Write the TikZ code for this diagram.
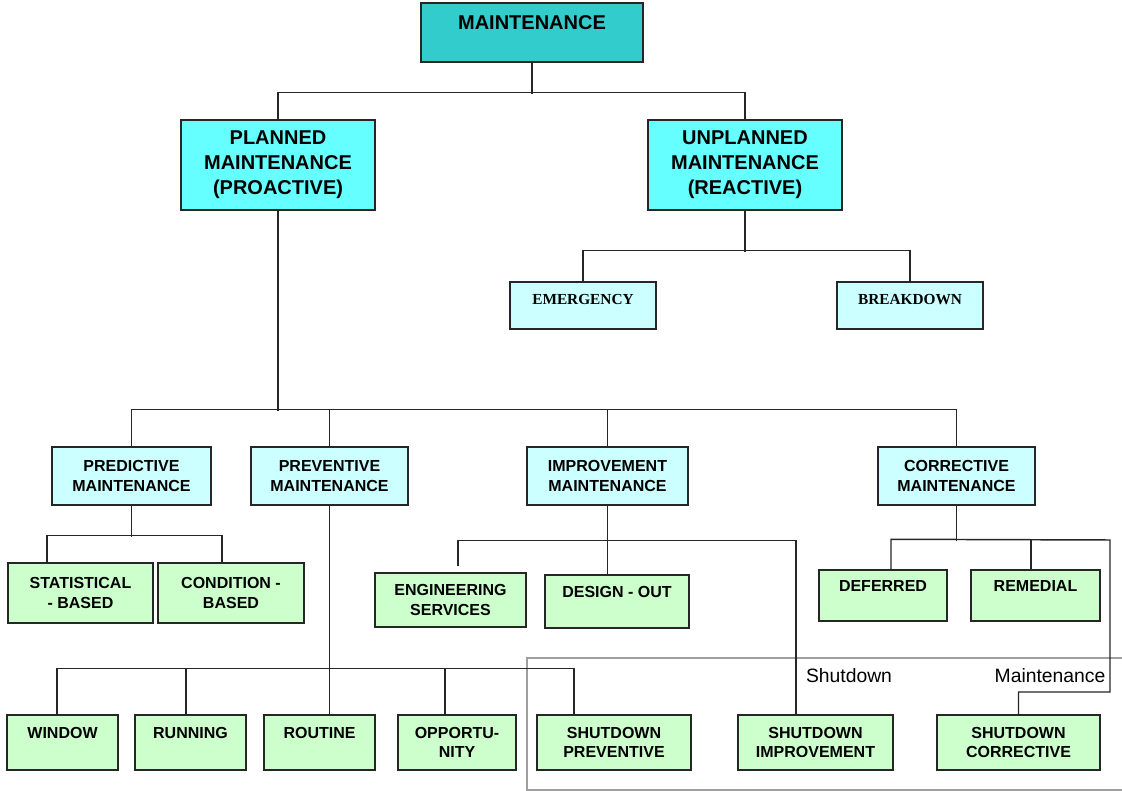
\documentclass[tikz,border=0pt]{standalone}
\usepackage{fontspec}
\setmainfont{Liberation Sans}
\newfontfamily\serifb{Liberation Serif}
\usetikzlibrary{calc}
\definecolor{tealA}{HTML}{33CCCC}
\definecolor{cyanA}{HTML}{66FFFF}
\definecolor{cyanB}{HTML}{CCFFFF}
\definecolor{greenA}{HTML}{CCFFCC}
\newcommand\mybox[7]{\node[#2, minimum width={(#5-#3)*0.75pt}, minimum height={(#6-#4)*0.75pt}] (#1) at ({(#3+#5)/2},{(#4+#6)/2}) {#7};}
\tikzset{
  box/.style={draw=black!85, line width=1.1pt, inner sep=1pt, align=center, font=\bfseries\fontsize{12}{14.5}\selectfont},
  bigbox/.style={box, font=\bfseries\fontsize{15}{18.75}\selectfont},
  topbox/.style={bigbox, fill=tealA},
  lvlone/.style={bigbox, fill=cyanA},
  lvltwo/.style={box, fill=cyanB},
  serbox/.style={box, fill=cyanB, font=\serifb\bfseries\fontsize{11.5}{13}\selectfont},
  leaf/.style={box, fill=greenA},
  lnk/.style={draw=black!85, line width=1.1pt},
  tag/.style={font=\fontsize{14.5}{16}\selectfont, inner sep=0pt}
}
\begin{document}
\begin{tikzpicture}[x=0.75pt, y=-0.75pt]
\useasboundingbox (0,0) rectangle (1122,791);
% frame of shutdown maintenance
\draw[gray!75, line width=0.9pt] (1122,658) -- (527,658) -- (527,790) -- (1122,790);
\node[tag] (tsd) at (849,676) {Shutdown};
\node[tag] (tmt) at (1050,676) {Maintenance};

\mybox{maint}{topbox}{421}{3}{643}{62}{MAINTENANCE\\[-9pt]\strut}
\mybox{planned}{lvlone}{181}{120}{375}{210}{PLANNED\\MAINTENANCE\\(PROACTIVE)}
\mybox{unplanned}{lvlone}{648}{120}{842}{210}{UNPLANNED\\MAINTENANCE\\(REACTIVE)}
\mybox{emerg}{serbox}{510}{282}{656}{329}{EMERGENCY\\[-8pt]\strut}
\mybox{brk}{serbox}{837}{282}{983}{329}{BREAKDOWN\\[-8pt]\strut}
\mybox{pred}{lvltwo}{52}{447}{211}{505}{PREDICTIVE\\MAINTENANCE}
\mybox{prev}{lvltwo}{251}{447}{408}{505}{PREVENTIVE\\MAINTENANCE}
\mybox{impr}{lvltwo}{527}{447}{688}{505}{IMPROVEMENT\\MAINTENANCE}
\mybox{corr}{lvltwo}{878}{447}{1035}{505}{CORRECTIVE\\MAINTENANCE}
\mybox{stat}{leaf}{8}{563}{153}{623}{STATISTICAL\\- BASED}
\mybox{cond}{leaf}{158}{563}{304}{623}{CONDITION -\\BASED}
\mybox{eng}{leaf}{375}{573}{526}{627}{ENGINEERING\\SERVICES}
\mybox{design}{leaf}{545}{575}{689}{628}{DESIGN - OUT\\[-4.5pt]\strut}
\mybox{deferred}{leaf}{819}{570}{947}{621}{DEFERRED\\[-4.5pt]\strut}
\mybox{remedial}{leaf}{971}{570}{1100}{621}{REMEDIAL\\[-4.5pt]\strut}
\mybox{window}{leaf}{7}{715}{118}{770}{WINDOW\\[-4.5pt]\strut}
\mybox{running}{leaf}{135}{715}{246}{770}{RUNNING\\[-4.5pt]\strut}
\mybox{routine}{leaf}{264}{715}{375}{770}{ROUTINE\\[-4.5pt]\strut}
\mybox{opp}{leaf}{398}{715}{516}{770}{OPPORTU-\\NITY}
\mybox{sdprev}{leaf}{537}{715}{691}{770}{SHUTDOWN\\PREVENTIVE}
\mybox{sdimp}{leaf}{738}{715}{893}{770}{SHUTDOWN\\IMPROVEMENT}
\mybox{sdcorr}{leaf}{937}{715}{1100}{770}{SHUTDOWN\\CORRECTIVE}

% level 0 -> 1
\draw[lnk] (maint.south) -- ++(0,31);
\draw[lnk] (planned.north) -- ++(0,-27) -| (unplanned.north);
% unplanned
\draw[lnk] (unplanned.south) -- ++(0,41);
\draw[lnk] (emerg.north) -- ++(0,-31) -| (brk.north);
% planned
\draw[lnk] (planned.south) -- ++(0,200);
\draw[lnk] (pred.north) -- ++(0,-37) -| (corr.north);
\draw[lnk] (prev.north) -- ++(0,-37);
\draw[lnk] (impr.north) -- ++(0,-37);
% predictive
\draw[lnk] (pred.south) -- ++(0,31);
\draw[lnk] ($(stat.north)+(-33.5,0)$) -- ++(0,-27) -| ($(cond.north)+(-9,0)$);
% preventive
\draw[lnk] (prev.south) -- (prev.south |- routine.north);
\draw[lnk] ($(window.north)+(-5.5,0)$) -- ++(0,-46) -| ($(sdprev.north)+(-40,0)$);
\draw[lnk] ($(running.north)+(-4.5,0)$) -- ++(0,-46);
\draw[lnk] ($(opp.north)+(-12,0)$) -- ++(0,-46);
% improvement
\draw[lnk] (impr.south) -- ($(design.north)+(-9.5,0)$);
\draw[lnk] ($(eng.north)+(7.5,-6)$) -- ++(0,-26) -| ($(sdimp.north)+(-19.5,0)$);
% corrective
\draw[lnk] (corr.south) -- ++(0,35);
\coordinate (cturn) at (1110,540);
\draw[lnk] ($(deferred.north)+(8,0)$) -- ++(0,-30) -- (cturn) -- ++(0,152) -| (sdcorr.north);
\draw[lnk] ($(remedial.north)+(-4.5,0)$) -- ++(0,-30);
\end{tikzpicture}
\end{document}
